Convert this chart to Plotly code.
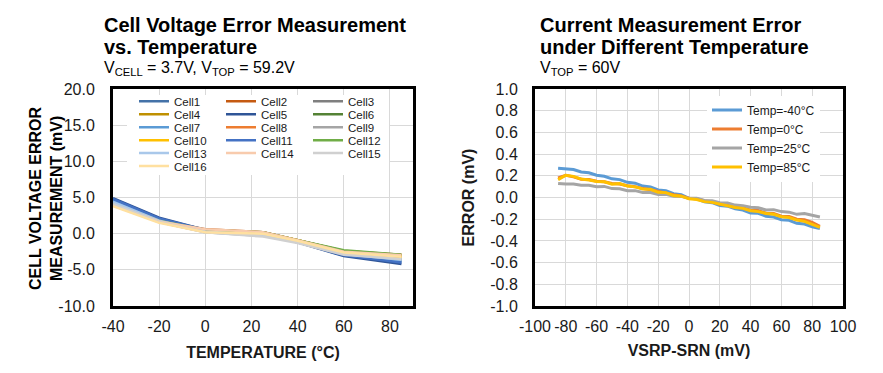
import plotly.graph_objects as go

# ---------------- data ----------------
temps = [-40, -20, 0, 25, 40, 60, 85]

cell_names = ["Cell1", "Cell2", "Cell3", "Cell4", "Cell5", "Cell6", "Cell7", "Cell8",
              "Cell9", "Cell10", "Cell11", "Cell12", "Cell13", "Cell14", "Cell15", "Cell16"]
cell_colors = ["#4472A8", "#C55A11", "#7F7F7F", "#BF9000", "#2F5597", "#548235",
               "#5B9BD5", "#ED7D31", "#A5A5A5", "#FFC000", "#4472C4", "#70AD47",
               "#A9C8EA", "#F8CBAD", "#D0D0D0", "#FFE0A0"]

cell1 = [4.8, 2.1, 0.4, 0.0, -1.1, -2.9, -3.9]
cell2 = [4.3, 1.8, 0.6, 0.2, -0.9, -2.4, -2.9]
cell3 = [4.2, 1.7, 0.3, -0.2, -1.2, -2.8, -3.6]
cell4 = [4.1, 1.7, 0.4, 0.1, -1.0, -2.6, -3.3]
cell5 = [4.9, 2.2, 0.5, 0.1, -1.2, -3.1, -4.2]
cell6 = [4.3, 1.8, 0.5, 0.2, -0.9, -2.4, -3.0]
cell7 = [4.6, 2.0, 0.4, 0.0, -1.1, -2.8, -3.7]
cell8 = [4.2, 1.8, 0.5, 0.2, -0.9, -2.5, -3.0]
cell9 = [4.1, 1.6, 0.2, -0.3, -1.2, -2.8, -3.5]
cell10 = [3.9, 1.6, 0.3, 0.1, -0.9, -2.5, -3.1]
cell11 = [4.8, 2.1, 0.5, 0.0, -1.2, -3.0, -4.0]
cell12 = [4.2, 1.8, 0.5, 0.2, -0.9, -2.3, -2.9]
cell13 = [4.4, 1.8, 0.3, -0.2, -1.2, -2.8, -3.6]
cell14 = [4.0, 1.7, 0.6, 0.2, -0.9, -2.5, -3.0]
cell15 = [4.1, 1.6, 0.2, -0.4, -1.3, -2.9, -3.5]
cell16 = [3.8, 1.5, 0.2, 0.0, -1.0, -2.6, -3.2]
cell_values = [cell1, cell2, cell3, cell4, cell5, cell6, cell7, cell8,
               cell9, cell10, cell11, cell12, cell13, cell14, cell15, cell16]

vsrp = [-85, -80, -75, -70, -65, -60, -55, -50, -45, -40, -35, -30, -25, -20, -15, -10, -5,
        0, 5, 10, 15, 20, 25, 30, 35, 40, 45, 50, 55, 60, 65, 70, 75, 80, 85]
err_m40 = [0.27, 0.262, 0.258, 0.235, 0.228, 0.205, 0.195, 0.172, 0.165, 0.14, 0.132, 0.105,
           0.098, 0.07, 0.062, 0.035, 0.025, -0.008, -0.012, -0.04, -0.048, -0.075, -0.08,
           -0.105, -0.115, -0.142, -0.145, -0.172, -0.18, -0.205, -0.21, -0.238, -0.245, -0.27, -0.285]
err_0 = [0.18, 0.205, 0.19, 0.168, 0.165, 0.15, 0.145, 0.13, 0.125, 0.108, 0.1, 0.082,
         0.072, 0.055, 0.042, 0.025, 0.015, -0.006, -0.012, -0.03, -0.04, -0.062, -0.065,
         -0.09, -0.095, -0.118, -0.12, -0.145, -0.148, -0.172, -0.175, -0.2, -0.205, -0.23, -0.265]
err_25 = [0.13, 0.124, 0.125, 0.112, 0.112, 0.1, 0.102, 0.082, 0.08, 0.062, 0.063, 0.046,
          0.045, 0.028, 0.03, 0.012, 0.01, -0.008, -0.008, -0.028, -0.03, -0.048, -0.05,
          -0.07, -0.075, -0.09, -0.095, -0.115, -0.112, -0.13, -0.135, -0.155, -0.148, -0.165, -0.18]
err_85 = [0.165, 0.205, 0.195, 0.17, 0.162, 0.148, 0.145, 0.122, 0.128, 0.105, 0.098, 0.078,
          0.075, 0.048, 0.045, 0.018, 0.012, -0.012, -0.018, -0.038, -0.045, -0.062, -0.072,
          -0.092, -0.1, -0.122, -0.13, -0.148, -0.155, -0.178, -0.185, -0.208, -0.22, -0.248, -0.275]
temp_names = ["Temp=-40°C", "Temp=0°C", "Temp=25°C", "Temp=85°C"]
temp_colors = ["#5B9BD5", "#ED7D31", "#A5A5A5", "#FFC000"]
temp_values = [err_m40, err_0, err_25, err_85]

left_x_ticks = [-40, -20, 0, 20, 40, 60, 80]
left_x_labels = ["-40", "-20", "0", "20", "40", "60", "80"]
left_y_ticks = [-10, -5, 0, 5, 10, 15, 20]
left_y_labels = ["-10.0", "-5.0", "0.0", "5.0", "10.0", "15.0", "20.0"]
right_x_ticks = [-100, -80, -60, -40, -20, 0, 20, 40, 60, 80, 100]
right_x_labels = ["-100", "-80", "-60", "-40", "-20", "0", "20", "40", "60", "80", "100"]
right_y_ticks = [-1.0, -0.8, -0.6, -0.4, -0.2, 0.0, 0.2, 0.4, 0.6, 0.8, 1.0]
right_y_labels = ["-1.0", "-0.8", "-0.6", "-0.4", "-0.2", "0.0", "0.2", "0.4", "0.6", "0.8", "1.0"]

# ---------------- layout helpers ----------------
# the page body adds an 8px offset, so the figure is drawn 8px smaller and
# every screen position below is given in window pixels
OFF = 8
W, H = 883 - OFF, 373 - OFF
ML, MR, MT, MB = 113 - OFF, 40, 89 - OFF, 67
PW = W - ML - MR
PH = H - MT - MB


def fx(px):
    return (px - OFF - ML) / PW


def fy(py):
    return 1 - (py - OFF - MT) / PH


FONT = "Liberation Sans, Arial, sans-serif"
TXT = "#1a1a1a"

fig = go.Figure()

for i, (name, color, vals) in enumerate(zip(cell_names, cell_colors, cell_values)):
    row = i // 3
    fig.add_trace(go.Scatter(
        x=temps, y=vals, name=name, mode="lines",
        line=dict(color=color, width=2.5),
        xaxis="x", yaxis="y",
        legend="legend" if row == 0 else f"legend{row + 1}",
    ))

for name, color, vals in zip(temp_names, temp_colors, temp_values):
    fig.add_trace(go.Scatter(
        x=vsrp, y=vals, name=name, mode="lines",
        line=dict(color=color, width=3),
        xaxis="x2", yaxis="y2", legend="legend7",
    ))

axis_common = dict(
    automargin=False,
    showgrid=True, gridcolor="#D9D9D9", gridwidth=1,
    showline=True, linecolor="black", linewidth=3, mirror=True,
    zeroline=False, ticks="outside", tickcolor="rgba(0,0,0,0)",
    tickfont=dict(family=FONT, size=16, color=TXT), tickangle=0,
)

row_centers = [101.3, 114.3, 127.2, 140.2, 153.1, 166.1]
legends = {}
for r, yc in enumerate(row_centers):
    key = "legend" if r == 0 else f"legend{r + 1}"
    legends[key] = dict(
        orientation="h", x=fx(134), xanchor="left", y=fy(yc), yanchor="middle",
        entrywidth=42, entrywidthmode="pixels", bgcolor="rgba(0,0,0,0)",
        borderwidth=0, font=dict(family=FONT, size=11.5, color=TXT),
        itemwidth=30, tracegroupgap=0,
    )
legends["legend7"] = dict(
    orientation="v", x=fx(707), xanchor="left", y=fy(95.5), yanchor="top",
    bgcolor="white", borderwidth=0, font=dict(family=FONT, size=12, color=TXT),
    itemwidth=30,
)

fig.update_layout(
    template="none",
    width=W, height=H,
    margin=dict(l=ML, r=MR, t=MT, b=MB),
    paper_bgcolor="white", plot_bgcolor="white",
    font=dict(family=FONT, color=TXT),
    showlegend=True,
    xaxis=dict(axis_common, domain=[0, fx(413)], range=[-40, 90],
               tickvals=left_x_ticks, ticktext=left_x_labels, ticklen=4,
               title=dict(text="<b>TEMPERATURE (°C)</b>", font=dict(size=16), standoff=13),
               anchor="y"),
    yaxis=dict(axis_common, domain=[0, 1], range=[-10, 20],
               tickvals=left_y_ticks, ticktext=left_y_labels, ticklen=12, anchor="x"),
    xaxis2=dict(axis_common, domain=[fx(535), 1], range=[-100, 100],
                tickvals=right_x_ticks, ticktext=right_x_labels, ticklen=4,
                title=dict(text="<b>VSRP-SRN (mV)</b>", font=dict(size=16), standoff=11),
                anchor="y2"),
    yaxis2=dict(axis_common, domain=[0, 1], range=[-1, 1],
                tickvals=right_y_ticks, ticktext=right_y_labels, ticklen=11,
                title=dict(text="<b>ERROR (mV)</b>", font=dict(size=16), standoff=12),
                anchor="x2"),
    **legends,
)

fig.add_shape(type="rect", xref="paper", yref="paper",
              x0=fx(127), x1=fx(389), y0=fy(175), y1=fy(95),
              fillcolor="white", line=dict(width=0), layer="above")

annots = [
    dict(text="<b>Cell Voltage Error Measurement</b>", x=fx(102), y=fy(24.8), size=20),
    dict(text="<b>vs. Temperature</b>", x=fx(102), y=fy(47.4), size=20),
    dict(text="V<sub>CELL</sub> = 3.7V, V<sub>TOP</sub> = 59.2V", x=fx(102), y=fy(68.5), size=16),
    dict(text="<b>Current Measurement Error</b>", x=fx(538), y=fy(24.8), size=20),
    dict(text="<b>under Different Temperature</b>", x=fx(538), y=fy(47.4), size=20),
    dict(text="V<sub>TOP</sub> = 60V", x=fx(538), y=fy(68.5), size=16),
]
for a in annots:
    fig.add_annotation(text=a["text"], x=a["x"], y=a["y"], xref="paper", yref="paper",
                       xanchor="left", yanchor="middle", showarrow=False,
                       font=dict(family=FONT, size=a["size"], color="black"))

fig.add_annotation(text="<b>CELL VOLTAGE ERROR<br>MEASUREMENT (mV)</b>",
                   x=fx(46), y=fy(198), xref="paper", yref="paper",
                   xanchor="center", yanchor="middle", textangle=-90, showarrow=False,
                   font=dict(family=FONT, size=16, color="black"))

fig.write_html("out.html")
